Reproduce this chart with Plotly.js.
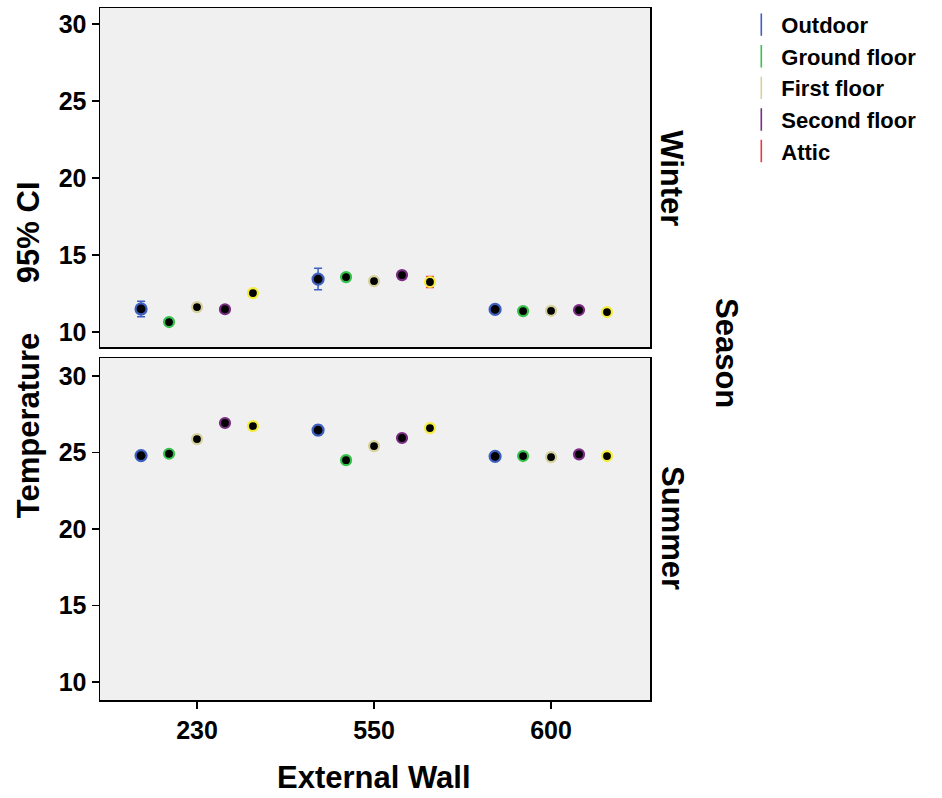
<!DOCTYPE html>
<html>
<head>
<meta charset="utf-8">
<script src="https://cdn.plot.ly/plotly-3.0.1.min.js"></script>
<style>html,body{margin:0;padding:0;background:#fff;}#chart{width:942px;height:798px;}</style>
</head>
<body>
<div id="chart"></div>
<script>
// Data
const wallCategories = ['230', '550', '600'];
const floorNames = ['Outdoor', 'Ground floor', 'First floor', 'Second floor', 'Attic'];
const barColors = ['#3d5fbf', '#35c24a', '#d6d19c', '#7a2b82', '#ea3a44'];
const outlineColors = ['#3d5fbf', '#35c24a', '#d6d19c', '#7a2b82', '#f4ec3c'];

// mean temperature per floor, one value per wall category
const winterMeans = [
  [11.5, 13.44, 11.47],   // Outdoor
  [10.65, 13.57, 11.36],  // Ground floor
  [11.62, 13.31, 11.38],  // First floor
  [11.48, 13.70, 11.43],  // Second floor
  [12.53, 13.25, 11.30]   // Attic
];
const winterErr = [
  [0.5, 0.7, 0.15],
  [0.1, 0.12, 0.1],
  [0.12, 0.12, 0.1],
  [0.1, 0.12, 0.1],
  [0.1, 0.35, 0.1]
];
const summerMeans = [
  [24.80, 26.47, 24.75],
  [24.92, 24.50, 24.77],
  [25.88, 25.42, 24.70],
  [26.93, 25.95, 24.88],
  [26.73, 26.60, 24.77]
];
const summerErr = [
  [0.15, 0.3, 0.2],
  [0.1, 0.1, 0.1],
  [0.1, 0.1, 0.1],
  [0.1, 0.1, 0.1],
  [0.1, 0.1, 0.1]
];

const yTicks = [10, 15, 20, 25, 30];
const dodge = 0.158;

const traces = [];
function addPanel(means, errs, xa, ya) {
  floorNames.forEach((name, i) => {
    const off = (i - 2) * dodge;
    traces.push({
      type: 'scatter', mode: 'markers', name: name, showlegend: false,
      xaxis: xa, yaxis: ya,
      x: wallCategories.map((c, k) => k + off),
      y: means[i],
      error_y: {type: 'data', array: errs[i], visible: true, color: barColors[i], thickness: 1.5, width: 4},
      marker: {color: '#000', size: i === 0 ? 11 : 10, line: {color: outlineColors[i], width: 2.2}},
      hoverinfo: 'x+y'
    });
  });
}
addPanel(winterMeans, winterErr, 'x2', 'y2');
addPanel(summerMeans, summerErr, 'x', 'y');

// legend entries
floorNames.forEach((name, i) => {
  traces.push({
    type: 'scatter', mode: 'markers', name: name, x: [null], y: [null],
    xaxis: 'x', yaxis: 'y', showlegend: true,
    marker: {symbol: 'line-ns-open', size: 16, color: barColors[i], line: {color: barColors[i], width: 1.6}}
  });
});

const FONT = 'Liberation Sans, Arial, sans-serif';
const baseX = {
  range: [-0.548, 2.559], tickmode: 'array', tickvals: [0, 1, 2], ticktext: wallCategories,
  showgrid: false, zeroline: false, showline: true, linecolor: '#000', linewidth: 1.5, mirror: true,
  ticks: 'outside', ticklen: 7, tickcolor: '#000', tickwidth: 1.5,
  tickfont: {family: FONT, size: 25, color: '#000', weight: 'bold'}
};
const baseY = {
  tickmode: 'array', tickvals: yTicks, showgrid: false, zeroline: false,
  showline: true, linecolor: '#000', linewidth: 1.5, mirror: true,
  ticks: 'outside', ticklen: 7, tickcolor: '#000', tickwidth: 1.5,
  tickfont: {family: FONT, size: 25, color: '#000', weight: 'bold'}
};

const layout = {
  width: 942, height: 798,
  margin: {l: 100, r: 292, t: 8, b: 98, autoexpand: false},
  paper_bgcolor: '#fff', plot_bgcolor: '#f0f0f0',
  font: {family: FONT, color: '#000'},
  showlegend: true,
  legend: {x: 1.166, y: 1.006, xanchor: 'left', yanchor: 'top', bgcolor: 'rgba(0,0,0,0)',
           font: {family: FONT, size: 22, color: '#000', weight: 'bold'}, tracegroupgap: 0, itemwidth: 30},
  xaxis: Object.assign({}, baseX, {anchor: 'y', domain: [0, 1]}),
  xaxis2: Object.assign({}, baseX, {anchor: 'y2', domain: [0, 1], matches: 'x', showticklabels: false, ticks: ''}),
  yaxis: Object.assign({}, baseY, {anchor: 'x', domain: [0, 0.4942], range: [8.82, 31.18]}),
  yaxis2: Object.assign({}, baseY, {anchor: 'x2', domain: [0.5101, 1], range: [9.03, 31.04]}),
  annotations: [
    {text: 'Winter', xref: 'paper', yref: 'paper', x: 1.04, y: 0.754, textangle: 90, showarrow: false,
     font: {family: FONT, size: 31, weight: 'bold'}, xanchor: 'center', yanchor: 'middle'},
    {text: 'Summer', xref: 'paper', yref: 'paper', x: 1.04, y: 0.2486, textangle: 90, showarrow: false,
     font: {family: FONT, size: 31, weight: 'bold'}, xanchor: 'center', yanchor: 'middle'},
    {text: 'Season', xref: 'paper', yref: 'paper', x: 1.14, y: 0.5014, textangle: 90, showarrow: false,
     font: {family: FONT, size: 31, weight: 'bold'}, xanchor: 'center', yanchor: 'middle'},
    {text: 'Temperature', xref: 'paper', yref: 'paper', x: -0.131, y: 0.397, textangle: -90, showarrow: false,
     font: {family: FONT, size: 31, weight: 'bold'}, xanchor: 'center', yanchor: 'middle'},
    {text: '95% CI', xref: 'paper', yref: 'paper', x: -0.131, y: 0.676, textangle: -90, showarrow: false,
     font: {family: FONT, size: 31, weight: 'bold'}, xanchor: 'center', yanchor: 'middle'},
    {text: 'External Wall', xref: 'paper', yref: 'paper', x: 0.498, y: -0.1127, showarrow: false,
     font: {family: FONT, size: 31, weight: 'bold'}, xanchor: 'center', yanchor: 'middle'}
  ]
};

Plotly.newPlot('chart', traces, layout, {displayModeBar: false, staticPlot: true});
</script>
</body>
</html>
